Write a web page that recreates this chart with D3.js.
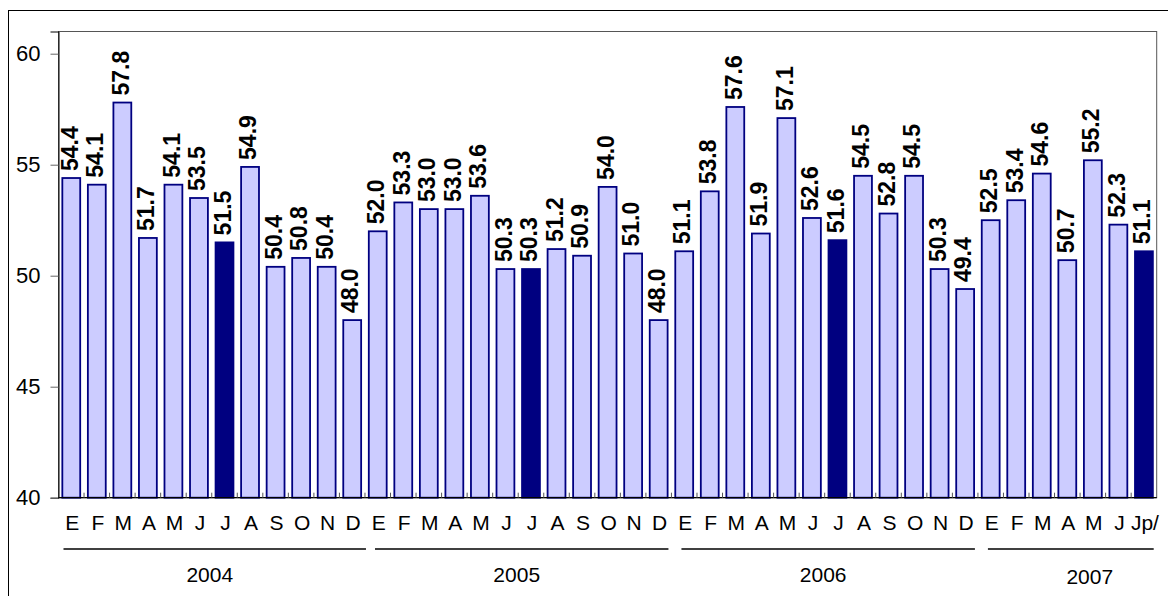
<!DOCTYPE html>
<html>
<head>
<meta charset="utf-8">
<script src="https://cdn.jsdelivr.net/npm/d3@7"></script>
<style>
  body { margin: 0; background: #fff; }
  svg { display: block; font-family: "Liberation Sans", Arial, sans-serif; }
</style>
</head>
<body>
<svg id="chart" width="1168" height="596"></svg>
<script>
// Data
const years = ["2004", "2005", "2006", "2007"];
const months = [
  ["E", "F", "M", "A", "M", "J", "J", "A", "S", "O", "N", "D"],
  ["E", "F", "M", "A", "M", "J", "J", "A", "S", "O", "N", "D"],
  ["E", "F", "M", "A", "M", "J", "J", "A", "S", "O", "N", "D"],
  ["E", "F", "M", "A", "M", "J", "Jp/"]
];
const values = [
  [54.4, 54.1, 57.8, 51.7, 54.1, 53.5, 51.5, 54.9, 50.4, 50.8, 50.4, 48.0],
  [52.0, 53.3, 53.0, 53.0, 53.6, 50.3, 50.3, 51.2, 50.9, 54.0, 51.0, 48.0],
  [51.1, 53.8, 57.6, 51.9, 57.1, 52.6, 51.6, 54.5, 52.8, 54.5, 50.3, 49.4],
  [52.5, 53.4, 54.6, 50.7, 55.2, 52.3, 51.1]
];
const yTicks = [40, 45, 50, 55, 60];
const highlightMonth = 6; // July

// flatten into one row per bar
const data = [];
years.forEach((yr, yi) => {
  values[yi].forEach((v, mi) => {
    data.push({ id: yr + "-" + mi, year: yr, label: months[yi][mi], value: v, hi: mi === highlightMonth });
  });
});

const svg = d3.select("#chart");
const plot = { left: 58.5, right: 1156.7, top: 31.5, bottom: 497.7 };

const x = d3.scaleBand()
  .domain(data.map(d => d.id))
  .range([plot.left, plot.right])
  .paddingInner(0.3)
  .paddingOuter(0.15);
const step = x.step();

const y = d3.scaleLinear().domain([40, 61]).range([plot.bottom, plot.top]);

// outer frame
svg.append("rect")
  .attr("x", 8.5).attr("y", 10.5)
  .attr("width", 1170).attr("height", 600)
  .attr("fill", "none").attr("stroke", "#000").attr("stroke-width", 1);

// plot area frame
svg.append("rect")
  .attr("x", plot.left).attr("y", plot.top)
  .attr("width", plot.right - plot.left).attr("height", plot.bottom - plot.top)
  .attr("fill", "none").attr("stroke", "#555").attr("stroke-width", 1);

// bars
svg.append("g").selectAll("rect")
  .data(data)
  .join("rect")
  .attr("x", d => x(d.id))
  .attr("y", d => y(d.value))
  .attr("width", x.bandwidth())
  .attr("height", d => y(40) - y(d.value))
  .attr("fill", d => d.hi ? "#000080" : "#CCCCFF")
  .attr("stroke", "#000080")
  .attr("stroke-width", 1.8);

// value labels
svg.append("g").selectAll("text")
  .data(data)
  .join("text")
  .attr("transform", d => `translate(${x(d.id) + x.bandwidth() / 2 - 2},${y(d.value) - 7}) rotate(-90)`)
  .attr("dy", "0.36em")
  .attr("font-size", 23)
  .attr("font-weight", "bold")
  .attr("fill", "#000")
  .text(d => d.value.toFixed(1));

// y axis
const yAxis = svg.append("g")
  .attr("transform", `translate(${plot.left},0)`)
  .call(d3.axisLeft(y).tickValues(yTicks).tickSize(8).tickPadding(10));
yAxis.select(".domain").attr("stroke", "#000");
yAxis.selectAll(".tick line").attr("stroke", "#666");
yAxis.selectAll(".tick text")
  .attr("font-size", 22)
  .attr("font-family", "Liberation Sans, Arial, sans-serif")
  .attr("fill", "#000");

// x axis baseline and small category ticks
svg.append("line")
  .attr("x1", plot.left).attr("x2", plot.right)
  .attr("y1", plot.bottom).attr("y2", plot.bottom)
  .attr("stroke", "#000").attr("stroke-width", 1.2);

svg.append("g").selectAll("line")
  .data(data.slice(1))
  .join("line")
  .attr("x1", d => x(d.id) - (step - x.bandwidth()) / 2)
  .attr("x2", d => x(d.id) - (step - x.bandwidth()) / 2)
  .attr("y1", plot.bottom)
  .attr("y2", plot.bottom - 5)
  .attr("stroke", "#555");

// month labels
svg.append("g").selectAll("text")
  .data(data)
  .join("text")
  .attr("x", d => x(d.id) + x.bandwidth() / 2 + 1)
  .attr("y", 529.5)
  .attr("text-anchor", "middle")
  .attr("font-size", 21)
  .text(d => d.label);

// year group lines and labels
const groups = years.map((yr, yi) => {
  const ids = data.filter(d => d.year === yr);
  const x0 = x(ids[0].id) - (step - x.bandwidth()) / 2;
  const x1 = x(ids[ids.length - 1].id) + x.bandwidth() + (step - x.bandwidth()) / 2;
  return { yr, x0: yi === 0 ? x0 + 5 : x0 + 10, x1: yi === 0 ? x1 + 1 : x1 - 3 };
});

svg.append("g").selectAll("line")
  .data(groups)
  .join("line")
  .attr("x1", d => d.x0).attr("x2", d => d.x1)
  .attr("y1", 549).attr("y2", 549)
  .attr("stroke", "#000").attr("stroke-width", 1.3);

svg.append("g").selectAll("text")
  .data(groups)
  .join("text")
  .attr("x", d => (d.x0 + d.x1) / 2 + (d.yr === "2007" ? 19 : -5))
  .attr("y", d => d.yr === "2007" ? 584 : 582)
  .attr("text-anchor", "middle")
  .attr("font-size", 21)
  .text(d => d.yr);
</script>
</body>
</html>
